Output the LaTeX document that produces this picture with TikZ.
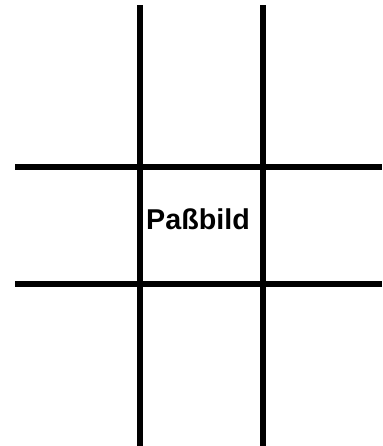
\documentclass[tikz,border=0pt]{standalone}
\usepackage{fontspec}
\setmainfont{Liberation Sans}
\usetikzlibrary{positioning}

\begin{document}
\begin{tikzpicture}[
    x=0.75pt, y=-0.75pt,
    rule/.style={line width=3.8pt},
    label/.style={font=\fontsize{21.5}{24}\selectfont\bfseries, inner sep=0pt}
  ]
    \useasboundingbox (0,0) rectangle (382,446);
    % vertical lines
    \coordinate (v1top) at (140,5);
    \coordinate (v1bot) at (140,446);
    \coordinate (v2top) at (263,5);
    \coordinate (v2bot) at (263,446);
    % horizontal lines
    \coordinate (h1left) at (15,167);
    \coordinate (h1right) at (382,167);
    \coordinate (h2left) at (15,284);
    \coordinate (h2right) at (382,284);
    \draw[rule] (v1top) -- (v1bot);
    \draw[rule] (v2top) -- (v2bot);
    \draw[rule] (h1left) -- (h1right);
    \draw[rule] (h2left) -- (h2right);
    \node[label] (photo) at (198,219) {Paßbild};
  \end{tikzpicture}
\end{document}
